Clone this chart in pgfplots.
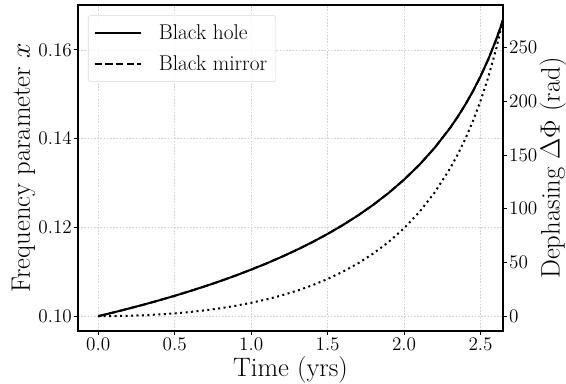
\documentclass[border=0pt]{standalone}
\usepackage{pgfplots}
\usepackage{pgfplotstable}
\pgfplotsset{compat=1.18}
\pgfplotstableread{
t x
0 0.10000
0.1 0.10084
0.2 0.10172
0.3 0.10263
0.4 0.10359
0.5 0.10459
0.6 0.10565
0.7 0.10676
0.8 0.10793
0.9 0.10917
1.0 0.11049
1.1 0.11188
1.2 0.11337
1.3 0.11497
1.4 0.11668
1.5 0.11853
1.6 0.12054
1.7 0.12273
1.8 0.12513
1.9 0.12779
2.0 0.13076
2.1 0.13410
2.2 0.13793
2.3 0.14237
2.35 0.14488
2.4 0.14763
2.45 0.15066
2.5 0.15404
2.55 0.15782
2.6 0.16213
2.625 0.16452
2.647 0.16677
}\hole
\pgfplotstableread{
t x
0 0.10000
0.1 0.10084
0.2 0.10172
0.3 0.10263
0.4 0.10359
0.5 0.10459
0.6 0.10565
0.7 0.10676
0.8 0.10793
0.9 0.10917
1.0 0.11049
1.1 0.11188
1.2 0.11337
1.3 0.11497
1.4 0.11668
1.5 0.11853
1.6 0.12054
1.7 0.12273
1.8 0.12513
1.9 0.12779
2.0 0.13076
2.1 0.13410
2.2 0.13793
2.3 0.14237
2.35 0.14488
2.4 0.14763
2.45 0.15066
2.5 0.15404
2.55 0.15782
2.6 0.16213
2.625 0.16452
2.647 0.16677
}\mirror
\pgfplotstableread{
t dphi
0 0
0.1 0.09
0.2 0.38
0.3 0.89
0.4 1.63
0.5 2.62
0.6 3.90
0.7 5.48
0.8 7.41
0.9 9.72
1.0 12.45
1.1 15.65
1.2 19.39
1.3 23.74
1.4 28.79
1.5 34.64
1.6 41.42
1.7 49.30
1.8 58.49
1.9 69.24
2.0 81.93
2.1 97.02
2.2 115.18
2.3 137.37
2.35 150.4
2.4 165.03
2.45 181.6
2.5 200.49
2.55 222.28
2.6 247.74
2.625 262.2
2.647 275.97
}\dephase
\begin{document}
\begin{tikzpicture}
\path[use as bounding box] (-58.5pt,-39pt) rectangle (366pt,248.25pt);
\pgfplotsset{
  every axis/.append style={
    scale only axis, width=318.75pt, height=244.5pt,
    at={(0,0)}, anchor=south west,
    xmin=-0.13235, xmax=2.647,
    tick align=outside, major tick length=2.8pt,
    tick label style={font=\fontsize{15.6}{18}\selectfont},
    yticklabel style={inner xsep=1.6pt},
    xticklabel style={inner ysep=2.5pt},
    axis line style={line width=0.8pt},
    every tick/.style={black, line width=0.8pt},
  }
}
\begin{axis}[
  ymin=0.09666, ymax=0.17011,
  ytick={0.10,0.12,0.14,0.16},
  xtick={0,0.5,1.0,1.5,2.0,2.5},
  scaled y ticks=false, scaled x ticks=false,
  yticklabel={\pgfmathprintnumber[fixed,fixed zerofill,precision=2]{\tick}},
  xticklabel={\pgfmathprintnumber[fixed,fixed zerofill,precision=1]{\tick}},
  xtick pos=bottom, ytick pos=left,
  grid=major,
  major grid style={gray!35, line width=0.4pt, dash pattern=on 1.2pt off 1.2pt},
  xlabel={Time (yrs)},
  ylabel={Frequency parameter $x$},
  xlabel style={at={(axis description cs:0.5,-0.12)}, anchor=center, font=\fontsize{20}{24}\selectfont},
  ylabel style={at={(axis description cs:-0.128,0.5)}, anchor=center, font=\fontsize{20}{24}\selectfont},
  legend cell align=left,
  legend style={at={(0.0235,0.969)}, anchor=north west,
    draw=gray!30, rounded corners=2pt, fill=white, fill opacity=0.8, text opacity=1,
    font=\fontsize{16}{18.5}\selectfont,
    inner xsep=4pt, inner ysep=4.5pt, row sep=5.5pt,
    nodes={inner sep=2.5pt},
    /tikz/every odd column/.append style={column sep=10.5pt}},
  legend image code/.code={\draw[#1] (0pt,0pt) -- (34.5pt,0pt);},
]
\addplot[black, line width=1.5pt] table[x=t, y=x] {\hole};
\addlegendentry{Black hole}
\addplot[black, line width=1.5pt, dash pattern=on 5.6pt off 2.4pt] table[x=t, y=x] {\mirror};
\addlegendentry{Black mirror}
\end{axis}
\begin{axis}[
  axis x line=none, axis y line*=right,
  ymin=-13.8, ymax=289.8,
  ytick={0,50,100,150,200,250},
  ylabel={Dephasing $\Delta\Phi$ (rad)},
  ylabel style={at={(axis description cs:1.1176,0.5)}, anchor=center, font=\fontsize{20}{24}\selectfont},
]
\addplot[black, line width=1.5pt, dash pattern=on 1.5pt off 2.6pt] table[x=t, y=dphi] {\dephase};
\end{axis}
\end{tikzpicture}
\end{document}
